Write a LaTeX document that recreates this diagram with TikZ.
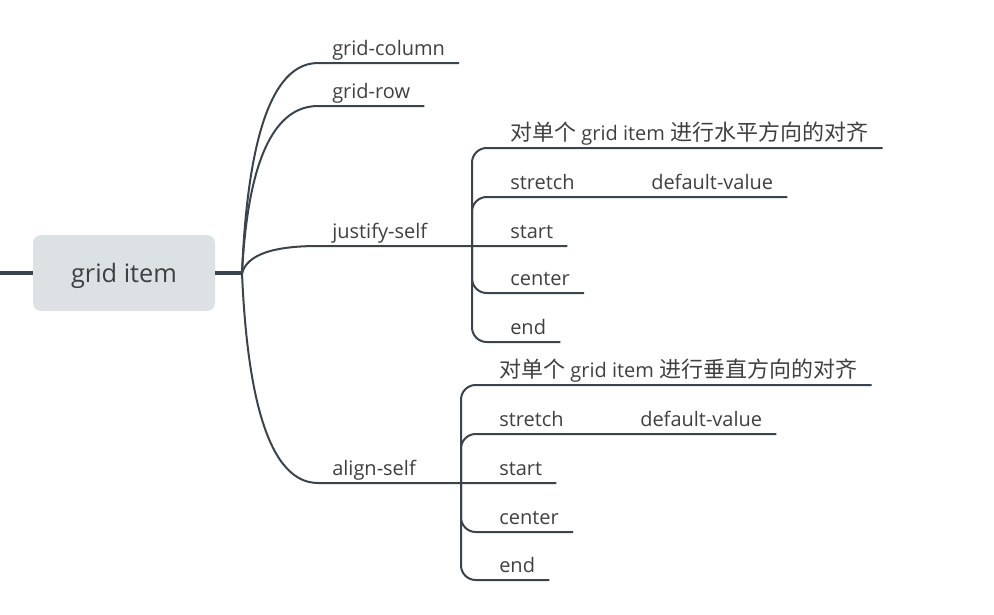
\documentclass[tikz,border=0pt]{standalone}
\usepackage{fontspec}
\setmainfont{Open Sans}
\newfontfamily\cjk{Noto Sans CJK SC}
\usepackage{tikz}
\usetikzlibrary{positioning}
\usepackage{xcolor}
\definecolor{linegray}{HTML}{3B444D}
\definecolor{txtgray}{HTML}{404040}
\definecolor{rootfill}{HTML}{DCE2E4}

\newcommand{\zh}[1]{{\cjk\fontsize{16.5}{20}\selectfont #1}}

\tikzset{
  root/.style={fill=rootfill, rounded corners=6pt, minimum width=136.5pt, minimum height=57pt, text depth=0pt, text=txtgray, font=\fontsize{19}{22}\selectfont},
  topic/.style={anchor=south west, inner xsep=10.5pt, inner ysep=5.25pt, text depth=0pt, text=txtgray, font=\fontsize{15}{18}\selectfont},
  note/.style={topic, font=\fontsize{15}{18}\selectfont},
  branch/.style={draw=linegray, line width=1.5pt},
  stub/.style={draw=linegray, line width=3pt},
}

\begin{document}
\begin{tikzpicture}[x=0.75pt, y=-0.75pt]
        \useasboundingbox (0,0) rectangle (994,614);
        \node[root] (gi) at (124,273) {grid item};
        \coordinate (fork) at (242,273);
        \coordinate (lend) at (0,273);
        \draw[stub] (lend) -- (gi.west);
        \draw[stub] (gi.east) -- (fork);
        % first level
        \node[topic] (gcol) at (318,63) {grid-column};
        \node[topic] (grow) at (318,106) {grid-row};
        \node[topic] (js) at (318,246) {justify-self};
        \node[topic] (as) at (318,483) {align-self};
        % justify-self
        \coordinate (jt) at (472,246);
        \node[note] (jh) at (496,148) {\zh{对单个} grid item \zh{进行水平方向的对齐}};
        \node[topic] (jstr) at (496,197) {stretch};
        \node[topic, base right=36pt of jstr] (jdv) {default-value};
        \node[topic] (jsta) at (496,246) {start};
        \node[topic] (jcen) at (496,293) {center};
        \node[topic] (jend) at (496,342) {end};
        % align-self
        \coordinate (at) at (461,483);
        \node[note] (ah) at (485,385) {\zh{对单个} grid item \zh{进行垂直方向的对齐}};
        \node[topic] (astr) at (485,434) {stretch};
        \node[topic, base right=36pt of astr] (adv) {default-value};
        \node[topic] (asta) at (485,483) {start};
        \node[topic] (acen) at (485,532) {center};
        \node[topic] (aend) at (485,580) {end};
        % branches
        \draw[branch] (fork) .. controls (246,178) and (261,63) .. (gcol.south west) -- (gcol.south east);
        \draw[branch] (fork) .. controls (246,197) and (261,106) .. (grow.south west) -- (grow.south east);
        \draw[branch] (fork) .. controls (246,260) and (261,246) .. (js.south west) -- (jsta.south east);
        \draw[branch] (fork) .. controls (246,367) and (261,483) .. (as.south west) -- (asta.south east);
        % trunks
        \draw[branch, rounded corners=11pt] (jh.south east) -- (jt|-jh.south) -- (jt|-jend.south) -- (jend.south east);
        \draw[branch, rounded corners=11pt] (jt) -- (jt|-jstr.south) -- (jdv.south east);
        \draw[branch, rounded corners=11pt] (jt) -- (jt|-jcen.south) -- (jcen.south east);
        \draw[branch, rounded corners=11pt] (ah.south east) -- (at|-ah.south) -- (at|-aend.south) -- (aend.south east);
        \draw[branch, rounded corners=11pt] (at) -- (at|-astr.south) -- (adv.south east);
        \draw[branch, rounded corners=11pt] (at) -- (at|-acen.south) -- (acen.south east);
\end{tikzpicture}
\end{document}
